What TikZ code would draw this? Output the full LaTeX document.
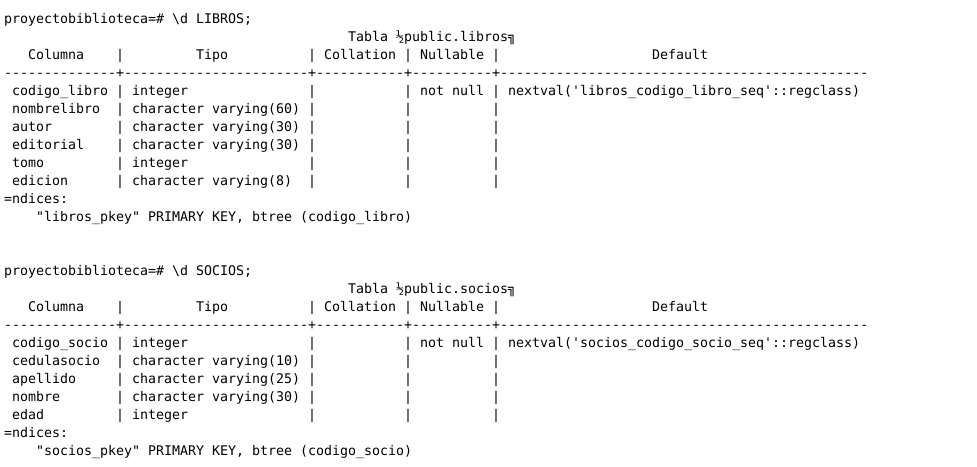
\documentclass[tikz,border=0pt]{standalone}
\usepackage{fontspec}
\setmonofont{DejaVu Sans Mono}

\begin{document}
\begin{tikzpicture}[
        x=6pt, y=-13.5pt,
        term/.style={
                font=\fontsize{9.97}{12}\selectfont\ttfamily,
                text=black,
                anchor=base west,
                inner sep=0pt,
                outer sep=0pt
            }
    ]
    \useasboundingbox[fill=white] (-0.5,-1.306) rectangle (121.625,24.583);

    % table libros
    \node[term] (prompt-libros) at (0,0)  {proyectobiblioteca=\# \textbackslash{}d LIBROS;};
    \node[term] (title-libros)  at (43,1) {Tabla ½public.libros╗};
    \node[term] (head-columna-libros)   at (3,2)  {Columna};
    \node[term] (head-tipo-libros)      at (24,2) {Tipo};
    \node[term] (head-collation-libros) at (40,2) {Collation};
    \node[term] (head-nullable-libros)  at (52,2) {Nullable};
    \node[term] (head-default-libros)   at (81,2) {Default};
    \foreach \c in {14,38,50,61}
        \node[term] (head-bar-libros-\c) at (\c,2) {|};
    \node[term] (sep-libros) at (0,3) {--------------+-----------------------+-----------+----------+----------------------------------------------};
    \foreach \colname/\coltype [count=\i from 4] in {codigo\_libro/integer, nombrelibro/character varying(60), autor/character varying(30), editorial/character varying(30), tomo/integer, edicion/character varying(8)} {
        \node[term] (libros-name-\i) at (1,\i)  {\colname};
        \node[term] (libros-type-\i) at (16,\i) {\coltype};
        \foreach \c in {14,38,50,61}
            \node[term] (libros-bar-\i-\c) at (\c,\i) {|};
    }
    \node[term] (libros-null)    at (52,4) {not null};
    \node[term] (libros-default) at (63,4) {nextval('libros\_codigo\_libro\_seq'::regclass)};
    \node[term] (idx-libros)  at (0,10) {=ndices:};
    \node[term] (pkey-libros) at (4,11) {"libros\_pkey" PRIMARY KEY, btree (codigo\_libro)};

    % table socios
    \node[term] (prompt-socios) at (0,14)  {proyectobiblioteca=\# \textbackslash{}d SOCIOS;};
    \node[term] (title-socios)  at (43,15) {Tabla ½public.socios╗};
    \node[term] (head-columna-socios)   at (3,16)  {Columna};
    \node[term] (head-tipo-socios)      at (24,16) {Tipo};
    \node[term] (head-collation-socios) at (40,16) {Collation};
    \node[term] (head-nullable-socios)  at (52,16) {Nullable};
    \node[term] (head-default-socios)   at (81,16) {Default};
    \foreach \c in {14,38,50,61}
        \node[term] (head-bar-socios-\c) at (\c,16) {|};
    \node[term] (sep-socios) at (0,17) {--------------+-----------------------+-----------+----------+----------------------------------------------};
    \foreach \colname/\coltype [count=\i from 18] in {codigo\_socio/integer, cedulasocio/character varying(10), apellido/character varying(25), nombre/character varying(30), edad/integer} {
        \node[term] (socios-name-\i) at (1,\i)  {\colname};
        \node[term] (socios-type-\i) at (16,\i) {\coltype};
        \foreach \c in {14,38,50,61}
            \node[term] (socios-bar-\i-\c) at (\c,\i) {|};
    }
    \node[term] (socios-null)    at (52,18) {not null};
    \node[term] (socios-default) at (63,18) {nextval('socios\_codigo\_socio\_seq'::regclass)};
    \node[term] (idx-socios)  at (0,23) {=ndices:};
    \node[term] (pkey-socios) at (4,24) {"socios\_pkey" PRIMARY KEY, btree (codigo\_socio)};
\end{tikzpicture}
\end{document}
